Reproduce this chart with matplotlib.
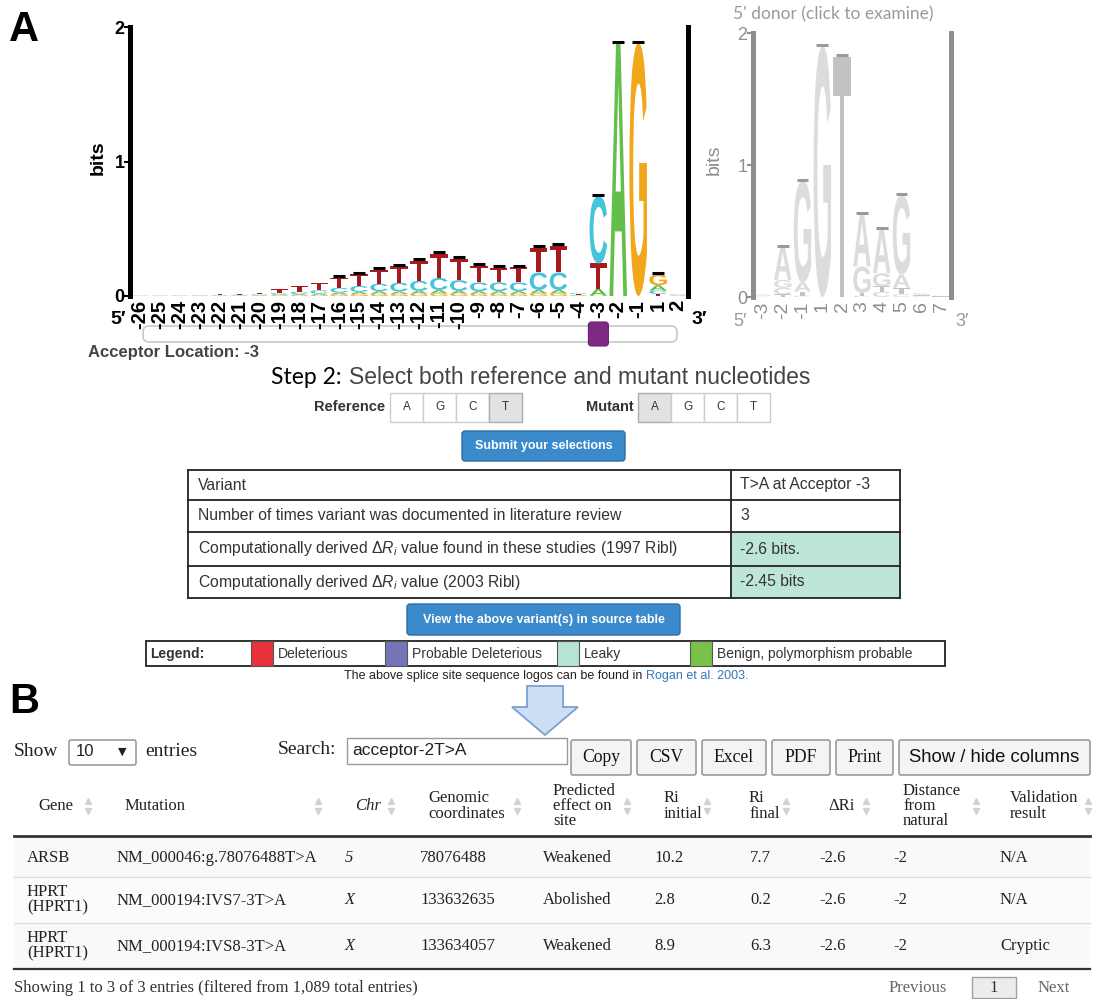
import numpy as np
import matplotlib.pyplot as plt
from matplotlib.patches import PathPatch, Rectangle, FancyBboxPatch, Polygon
from matplotlib.textpath import TextPath
from matplotlib.font_manager import FontProperties
from matplotlib.transforms import Affine2D

plt.rcParams['mathtext.fontset'] = 'custom'
plt.rcParams['mathtext.rm'] = 'Liberation Sans'
plt.rcParams['mathtext.it'] = 'Liberation Sans:italic'

W, H = 1094, 999

# ---- 3' acceptor logo, bits per base
acc_pos = list(range(-26, 0)) + [1, 2]
acc_A = [.001, .001, .002, .002, .002, .003, .004, .006, .008, .010, .014, .016, .020, .018,
         .020, .025, .020, .020, .020, .020, .025, .025, .005, .050, 1.88, 0.0, .040, .003]
acc_C = [.002, .002, .002, .003, .003, .004, .005, .012, .018, .025, .035, .045, .055, .065,
         .075, .090, .080, .065, .065, .065, .130, .130, .008, .500, 0.0, 0.0, .025, .004]
acc_G = [.001, .001, .001, .001, .002, .002, .003, .005, .006, .008, .012, .014, .016, .016,
         .018, .020, .018, .016, .016, .016, .020, .020, .004, .002, 0.0, 1.88, .080, .002]
acc_T = [.004, .004, .005, .005, .006, .008, .010, .030, .040, .055, .075, .085, .105, .125,
         .150, .180, .160, .125, .110, .115, .185, .200, .006, .190, 0.0, 0.0, .015, .003]

# ---- 5' donor logo, bits per base
don_pos = [-3, -2, -1, 1, 2, 3, 4, 5, 6, 7]
don_A = [.006, .250, .070, 0.0, 0.0, .400, .330, .100, .008, .003]
don_C = [.004, .050, .010, 0.0, 0.0, .010, .040, .020, .006, .002]
don_G = [.005, .060, .770, 1.90, 0.0, .200, .100, .600, .008, .003]
don_T = [.004, .020, .030, 0.0, 1.82, .020, .040, .050, .006, .002]

base_colors = {'A': '#62bf4b', 'C': '#45c4dc', 'G': '#f2a71b', 'T': '#a5191f'}
donor_colors = {'A': '#dcdcdc', 'C': '#dcdcdc', 'G': '#dcdcdc', 'T': '#c2c2c2'}

# ---- variant summary
acceptor_location = -3
ref_bases = ['A', 'G', 'C', 'T']
ref_selected = 'T'
mut_selected = 'A'
summary_labels = ['Variant',
                  'Number of times variant was documented in literature review',
                  'Computationally derived Δ$R_i$ value found in these studies (1997 Ribl)',
                  'Computationally derived Δ$R_i$ value (2003 Ribl)']
summary_values = ['T>A at Acceptor -3', '3', '-2.6 bits.', '-2.45 bits']
summary_shaded = [False, False, True, True]

legend_labels = ['Deleterious', 'Probable Deleterious', 'Leaky', 'Benign, polymorphism probable']
legend_colors = ['#e8313a', '#7574b8', '#b7e2d6', '#78c24a']

# ---- source table
col_headers = ['Gene', 'Mutation', 'Chr', 'Genomic\ncoordinates', 'Predicted\neffect on\nsite',
               'Ri\ninitial', 'Ri\nfinal', 'ΔRi', 'Distance\nfrom\nnatural', 'Validation\nresult']
genes = ['ARSB', 'HPRT\n(HPRT1)', 'HPRT\n(HPRT1)']
mutations = ['NM_000046:g.78076488T>A', 'NM_000194:IVS7-3T>A', 'NM_000194:IVS8-3T>A']
chroms = ['5', 'X', 'X']
coords = [78076488, 133632635, 133634057]
effects = ['Weakened', 'Abolished', 'Weakened']
ri_initial = [10.2, 2.8, 8.9]
ri_final = [7.7, 0.2, 6.3]
delta_ri = [-2.6, -2.6, -2.6]
distance = [-2, -2, -2]
validation = ['N/A', 'N/A', 'Cryptic']
export_buttons = ['Copy', 'CSV', 'Excel', 'PDF', 'Print']

SANS = 'Liberation Sans'
SERIF = 'Liberation Serif'

fig = plt.figure(figsize=(W / 100, H / 100), dpi=100)
ui = fig.add_axes([0, 0, 1, 1])
ui.set_xlim(0, W)
ui.set_ylim(H, 0)
ui.axis('off')


def px_axes(x0, y0, x1, y1):
    return fig.add_axes([x0 / W, 1 - y1 / H, (x1 - x0) / W, (y1 - y0) / H])


def box(x0, y0, x1, y1, fc='white', ec='#cccccc', lw=1.0, r=0, z=1):
    if r:
        p = FancyBboxPatch((x0, y0), x1 - x0, y1 - y0, boxstyle=f'round,pad=0,rounding_size={r}',
                           fc=fc, ec=ec, lw=lw, zorder=z)
    else:
        p = Rectangle((x0, y0), x1 - x0, y1 - y0, fc=fc, ec=ec, lw=lw, zorder=z)
    ui.add_patch(p)


def txt(x, y, s, size, color='#333333', family=SANS, weight='normal', ha='left', va='center',
        style='normal', **kw):
    ui.text(x, y, s, fontsize=size, color=color, family=family, fontweight=weight, ha=ha,
            va=va, fontstyle=style, zorder=5, **kw)


# ---- sequence logos
LOGO_FONT = FontProperties(family=SANS, weight='bold')


def draw_letter(ax, ch, x0, y0, w, h, color):
    path = TextPath((0, 0), ch, size=1, prop=LOGO_FONT)
    e = path.get_extents()
    t = Affine2D().translate(-e.x0, -e.y0).scale(w / e.width, h / e.height).translate(x0, y0)
    ax.add_patch(PathPatch(t.transform_path(path), fc=color, ec='none', lw=0))


def draw_logo(ax, heights, colors, cap_color, width=0.88):
    n = len(heights['A'])
    for i in range(n):
        stack = sorted((heights[b][i], b) for b in 'ACGT')
        y = 0.0
        for h, b in stack:
            if h > 0:
                draw_letter(ax, b, i - width / 2, y, width, h, colors[b])
                y += h
        if y > 0.1:
            ax.plot([i - 0.3, i + 0.3], [y + 0.01, y + 0.01], color=cap_color, lw=2.2,
                    solid_capstyle='butt')


def style_logo(ax, labels, color, weight, size):
    ax.set_xlim(-0.5, len(labels) - 0.5)
    ax.set_ylim(0, 2)
    ax.patch.set_visible(False)
    for s in ('top', 'bottom'):
        ax.spines[s].set_visible(False)
    for s in ('left', 'right'):
        ax.spines[s].set_linewidth(3.6)
        ax.spines[s].set_color(color)
    ax.set_yticks([0, 1, 2])
    ax.set_yticklabels(['0', '1', '2'], family=SANS, fontweight=weight)
    ax.tick_params(axis='y', length=4, width=1.5, color=color, labelcolor=color,
                   labelsize=13, pad=0, right=False)
    ax.set_xticks(range(len(labels)))
    ax.set_xticklabels([str(p) for p in labels], rotation=90, family=SANS, fontweight=weight)
    ax.tick_params(axis='x', length=0, pad=3, labelsize=size, labelcolor=color)


acc = px_axes(130, 27, 688, 296)
draw_logo(acc, {'A': acc_A, 'C': acc_C, 'G': acc_G, 'T': acc_T}, base_colors, 'black')
style_logo(acc, acc_pos, 'black', 'bold', 14.5)

don = px_axes(753, 33, 951, 297)
draw_logo(don, {'A': don_A, 'C': don_C, 'G': don_G, 'T': don_T}, donor_colors, '#9a9a9a')
style_logo(don, don_pos, '#8e8e8e', 'normal', 14)

txt(98, 158, 'bits', 14, color='black', weight='bold', ha='center', rotation=90)
txt(714, 160, 'bits', 14, color='#8e8e8e', ha='center', rotation=90)
txt(110, 320, '5′', 14, color='black', weight='bold', family=[SANS, 'DejaVu Sans'])
txt(692, 320, '3′', 14, color='black', weight='bold', family=[SANS, 'DejaVu Sans'])
txt(733, 322, '5′', 13, color='#9a9a9a', family=[SANS, 'DejaVu Sans'])
txt(955, 322, '3′', 13, color='#9a9a9a', family=[SANS, 'DejaVu Sans'])
txt(733, 14, "5' donor (click to examine)", 12.5, color='#9a9a9a', family='Lato')

# panel letters
txt(9, 30, 'A', 30, color='black', weight='bold')
txt(9, 702, 'B', 30, color='black', weight='bold')

# ---- slider
box(143, 326, 677, 342, fc='white', ec='#c8c8c8', lw=1.2, r=6)
slider_x = 140 + 19.93 * acc_pos.index(acceptor_location)
box(slider_x - 10, 322, slider_x + 10, 346, fc='#7d2a85', ec='#6b1f73', lw=0.8, r=3, z=2)
txt(88, 352, f'Acceptor Location: {acceptor_location}', 12, color='#444444', weight='bold')

# ---- step 2 selectors
txt(271, 377, 'Step 2:', 16.5, color='black', family='Lato')
txt(349, 377, 'Select both reference and mutant nucleotides', 16.5, color='#444444')

txt(385, 407, 'Reference', 10.5, weight='bold', ha='right')
txt(634, 407, 'Mutant', 10.5, weight='bold', ha='right')
for x0, sel in ((390, ref_selected), (638, mut_selected)):
    for k, b in enumerate(ref_bases):
        bx = x0 + 33 * k
        shaded = b == sel
        box(bx, 393, bx + 33, 422, fc='#e2e2e2' if shaded else 'white',
            ec='#adadad' if shaded else '#cccccc', lw=1)
        txt(bx + 16.5, 407.5, b, 8.5, color='#333333', ha='center')

box(462, 431, 625, 461, fc='#3b8acb', ec='#2e6da4', lw=1, r=3)
txt(543.5, 446, 'Submit your selections', 9, color='white', weight='bold', ha='center')

# ---- summary table
row_edges = [470, 500, 532, 566, 598]
for k in range(4):
    y0, y1 = row_edges[k], row_edges[k + 1]
    if summary_shaded[k]:
        box(731, y0, 900, y1, fc='#bee5d9', ec='none', lw=0, z=1)
    txt(198, (y0 + y1) / 2, summary_labels[k], 11.3, color='#333333')
    txt(740, (y0 + y1) / 2, summary_values[k], 11.3, color='#333333')
for y in row_edges:
    ui.plot([188, 900], [y, y], color='#222222', lw=1.3, zorder=3)
for x in (188, 731, 900):
    ui.plot([x, x], [470, 598], color='#222222', lw=1.3, zorder=3)

box(407, 604, 680, 635, fc='#3b8acb', ec='#2e6da4', lw=1, r=3)
txt(543.5, 619.5, 'View the above variant(s) in source table', 9, color='white',
    weight='bold', ha='center')

# ---- legend strip
box(146, 641, 945, 666, fc='white', ec='#222222', lw=1.3)
txt(150, 654, 'Legend:', 10, color='#333333', weight='bold')
sw_x = [251, 385, 557, 690]
for x, lab, c in zip(sw_x, legend_labels, legend_colors):
    box(x, 641, x + 22, 666, fc=c, ec='#555555', lw=0.8, z=2)
    txt(x + 27, 654, lab, 10, color='#333333')

txt(646, 676, 'The above splice site sequence logos can be found in ', 9, color='#222222',
    ha='right')
txt(646, 676, 'Rogan et al. 2003.', 9, color='#337ab7')

# down arrow between panels
arrow = Polygon([(527, 686), (563, 686), (563, 707), (578, 707), (545, 735), (512, 707),
                 (527, 707)], closed=True, fc='#cddff4', ec='#7a9fd2', lw=1.3, zorder=2)
ui.add_patch(arrow)

# ---- panel B controls
txt(14, 751, 'Show', 14, color='#222222', family=SERIF)
box(69, 740, 136, 765, fc='white', ec='#8a8a8a', lw=1, r=2)
txt(76, 752, '10', 12, color='#222222')
txt(118, 752, '▼', 8, color='#222222', family='DejaVu Sans')
txt(145, 751, 'entries', 14, color='#222222', family=SERIF)
txt(278, 750, 'Search:', 14, color='#222222', family=SERIF)
box(347, 738, 567, 764, fc='white', ec='#9a9a9a', lw=1)
txt(352, 751, 'acceptor-2T>A', 12.5, color='#222222')

btn_x = [(571, 631), (637, 696), (702, 766), (772, 830), (836, 893)]
for (x0, x1), lab in zip(btn_x, export_buttons):
    box(x0, 740, x1, 775, fc='#f4f4f4', ec='#9a9a9a', lw=1.2, r=2)
    txt((x0 + x1) / 2, 757, lab, 12.7, color='#111111', family=SERIF, ha='center')
box(899, 740, 1090, 775, fc='#f4f4f4', ec='#9a9a9a', lw=1.2, r=2)
txt(994.5, 757, 'Show / hide columns', 13.3, color='#111111', ha='center')

# ---- source table header
head_x = [38, 125, 355, 428, 553, 664, 749, 828, 903, 1010]
sort_x = [88, 318, 391, 517, 627, 707, 786, 866, 976, 1088]
for k, (hx, sx, lab) in enumerate(zip(head_x, sort_x, col_headers)):
    txt(hx, 806, lab, 12, color='#222222', family=SERIF, linespacing=0.95,
        style='italic' if lab == 'Chr' else 'normal')
    ui.plot([sx], [801], marker='^', ms=5, color='#d2d2d2', ls='none', zorder=4)
    ui.plot([sx], [811], marker='v', ms=5, color='#d2d2d2', ls='none', zorder=4)

ui.plot([14, 1090], [836, 836], color='#333333', lw=2, zorder=3)

row_y = [(838, 877), (877, 923), (923, 969)]
col_x = [27, 117, 345, 420, 543, 654, 750, 819, 893, 1000]
for k, (y0, y1) in enumerate(row_y):
    box(14, y0, 1090, y1, fc='#f9f9f9' if k % 2 == 0 else '#fbfbfb', ec='none', lw=0, z=1)
    if k:
        ui.plot([14, 1090], [y0, y0], color='#dddddd', lw=1, zorder=3)
    yc = (y0 + y1) / 2
    cells = [genes[k], mutations[k], chroms[k], str(coords[k]), effects[k],
             f'{ri_initial[k]:.1f}', f'{ri_final[k]:.1f}', f'{delta_ri[k]:.1f}',
             f'{distance[k]}', validation[k]]
    for j, (cx, s) in enumerate(zip(col_x, cells)):
        txt(cx, yc, s, 12, color='#222222', family=SERIF, linespacing=0.95,
            style='italic' if j == 2 else 'normal')
ui.plot([14, 1090], [969, 969], color='#333333', lw=1.6, zorder=3)

txt(14, 988, f'Showing 1 to {len(genes)} of {len(genes)} entries (filtered from 1,089 total entries)',
    12, color='#333333', family=SERIF)
txt(889, 988, 'Previous', 12, color='#666666', family=SERIF)
box(972, 977, 1016, 998, fc='#ececec', ec='#a0a0a0', lw=1)
txt(994, 988, '1', 12, color='#333333', family=SERIF, ha='center')
txt(1038, 988, 'Next', 12, color='#666666', family=SERIF)

fig.savefig('out.png', dpi=100)
